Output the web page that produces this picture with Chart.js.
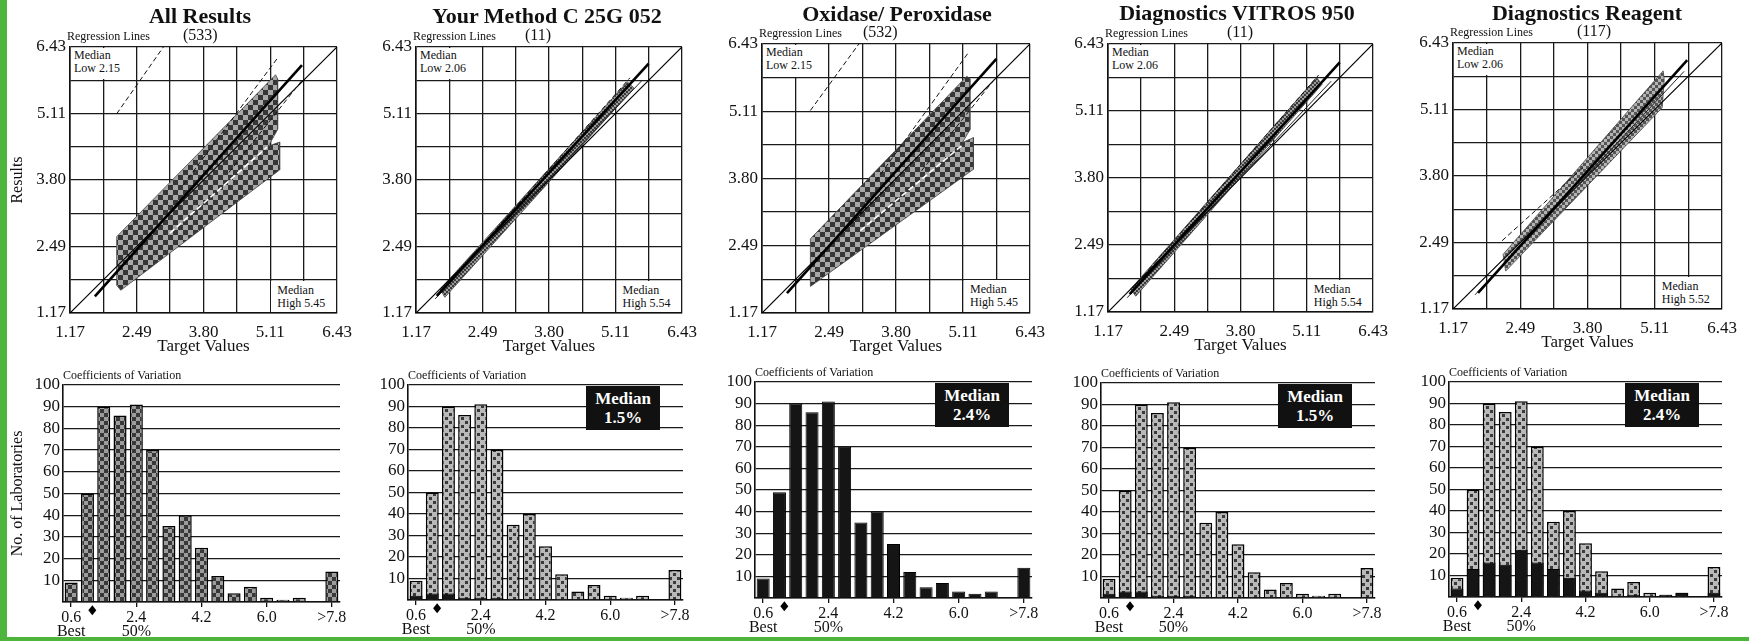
<!DOCTYPE html>
<html>
<head>
<meta charset="utf-8">
<script src="https://cdn.jsdelivr.net/npm/chart.js@4.4.1/dist/chart.umd.min.js"></script>
<style>
  body { margin: 0; background: #fff; }
  #page { position: relative; width: 1749px; height: 641px; overflow: hidden;
          font-family: "Liberation Serif", "Times New Roman", serif; color: #111; }
  #page canvas { position: absolute; }
  .abs { position: absolute; white-space: nowrap; }
  .title { font-size: 22px; font-weight: bold; line-height: 22px; transform: translateX(-50%); }
  .small { font-size: 12px; line-height: 13px; }
  .box { background: #fff; font-size: 12px; line-height: 13px; }
  .median { background: #111; color: #fff; font-weight: bold; font-size: 17px; line-height: 19px;
            text-align: center; box-sizing: border-box; padding-top: 3px; }
  .green { background: #4db53c; z-index: 5; }
</style>
</head>
<body>
<div id="page"></div>
<script>
// ---- data ----
const panelTitles = ['All Results', 'Your Method C 25G 052', 'Oxidase/ Peroxidase', 'Diagnostics VITROS 950', 'Diagnostics Reagent'];
const labCounts = ['(533)', '(11)', '(532)', '(11)', '(117)'];
const medianLow = ['2.15', '2.06', '2.15', '2.06', '2.06'];
const medianHigh = ['5.45', '5.54', '5.45', '5.54', '5.52'];
const cvMedian = [null, '1.5%', '2.4%', '1.5%', '2.4%'];

const gridValues = [1.17, 1.8275, 2.485, 3.1425, 3.80, 4.4575, 5.115, 5.7725, 6.43];
const gridLabels = ['1.17', '', '2.49', '', '3.80', '', '5.11', '', '6.43'];

const cvBins = ['0.6','1.05','1.5','1.95','2.4','2.85','3.3','3.75','4.2','4.65','5.1','5.55','6.0','6.45','6.9','7.35','>7.8'];
const cvTickLabels = { 0: ['0.6', 'Best'], 4: ['2.4', '50%'], 8: '4.2', 12: '6.0', 16: '>7.8' };
const allLabs       = [9, 50, 90, 86, 91, 70, 35, 40, 25, 12, 4, 7, 2, 1, 2, 0, 14];
const yourMethodLabs = [2, 3, 3, 1, 1, 1, 0, 0, 0, 0, 0, 0, 0, 0, 0, 0, 0];
const oxidaseLabs   = [9, 49, 90, 86, 91, 70, 35, 40, 25, 12, 5, 7, 3, 2, 3, 0, 14];
const vitrosLabs    = [2, 3, 3, 1, 1, 1, 0, 0, 0, 0, 0, 0, 0, 0, 0, 0, 0];
const reagentLabs   = [4, 13, 16, 15, 22, 16, 13, 9, 3, 2, 0, 1, 0, 1, 2, 0, 2];
// your lab's CV marker: position in bin units (bin 0 = "0.6"), value below the axis
const yourLabCV = [{ bin: 1.3, y: -3.8 }];

const identityLine = [{x: 1.17, y: 1.17}, {x: 6.43, y: 6.43}];
const medianLines = [
  [{x: 1.66, y: 1.50}, {x: 5.74, y: 6.07}],
  [{x: 1.58, y: 1.51}, {x: 5.77, y: 6.10}],
  [{x: 1.66, y: 1.56}, {x: 5.77, y: 6.14}],
  [{x: 1.60, y: 1.52}, {x: 5.77, y: 6.07}],
  [{x: 1.66, y: 1.49}, {x: 5.75, y: 6.09}]
];
const bandShapes = [
  [{x:2.09,y:2.68},{x:5.22,y:5.88},{x:5.26,y:5.80},{x:5.26,y:4.80},{x:5.08,y:4.47},{x:5.30,y:4.55},{x:5.30,y:4.00},{x:2.17,y:1.62},{x:2.09,y:1.72},{x:2.09,y:2.68}],
  [{x:1.65,y:1.64},{x:5.35,y:5.74},{x:5.48,y:5.62},{x:1.74,y:1.48},{x:1.65,y:1.64}],
  [{x:2.12,y:2.62},{x:5.19,y:5.80},{x:5.25,y:5.75},{x:5.25,y:4.75},{x:5.10,y:4.50},{x:5.32,y:4.60},{x:5.32,y:3.98},{x:2.12,y:1.69},{x:2.12,y:2.62}],
  [{x:1.62,y:1.62},{x:5.31,y:5.77},{x:5.42,y:5.64},{x:1.72,y:1.48},{x:1.62,y:1.62}],
  [{x:2.15,y:2.25},{x:5.28,y:5.88},{x:5.30,y:5.70},{x:5.26,y:5.15},{x:2.20,y:1.92},{x:2.15,y:2.25}]
];
const dashedLines = [
  [[{x:2.09,y:5.11},{x:3.01,y:6.43}], [{x:3.40,y:3.70},{x:5.25,y:6.20}], [{x:4.30,y:3.95},{x:5.74,y:5.77}]],
  [[{x:1.70,y:1.64},{x:5.40,y:5.82}]],
  [[{x:2.12,y:5.13},{x:3.07,y:6.43}], [{x:3.40,y:3.75},{x:5.22,y:6.26}], [{x:4.30,y:3.95},{x:5.78,y:5.80}]],
  [[{x:1.66,y:1.64},{x:5.35,y:5.82}]],
  [[{x:2.13,y:2.52},{x:3.75,y:4.00}]]
];
const thinLines = [
  [],
  [{x:1.55,y:1.45},{x:5.64,y:5.77}],
  [],
  [{x:1.55,y:1.45},{x:5.60,y:5.70}],
  [{x:1.60,y:1.45},{x:5.69,y:5.87}]
];
const whiteLines = [
  [{x:3.14,y:2.75},{x:5.05,y:4.45}],
  [],
  [{x:3.10,y:2.78},{x:5.10,y:4.45}],
  [],
  []
];

// ---- layout (plot areas in page pixels: left, right, top, bottom) ----
const scatterBoxes = [[70,337,47,313],[416,682,47,313],[762,1030,44,313],[1108,1373,44,312],[1453,1722,43,309]];
const histBoxes = [[63,340,385,602],[408,683,385,600],[755,1032,382,598],[1101,1375,383,598],[1449,1722,382,597]];
const titleCenters = [200, 547, 897, 1237, 1587];
const titleTops = [5, 5, 3, 2, 2];
const countOffsets = [113, 109, 101, 119, 124];

Chart.defaults.font.family = '"Liberation Serif", "Times New Roman", serif';
Chart.defaults.color = '#111';
Chart.defaults.animation = false;
Chart.defaults.plugins.legend.display = false;
Chart.defaults.plugins.tooltip.enabled = false;

// the "your lab" diamond sits below the x axis, outside the chart area,
// where point elements are not drawn: place it through the chart's own scales
const markerPlugin = {
  id: 'belowAxisMarker',
  afterDraw(chart, args, opts) {
    const xs = chart.scales.x, ys = chart.scales.y, ctx = chart.ctx;
    const x0 = xs.getPixelForValue(0), step = xs.getPixelForValue(1) - x0;
    (opts.points || []).forEach(p => {
      const px = x0 + p.bin * step, py = ys.getPixelForValue(p.y), r = 5;
      ctx.save();
      ctx.fillStyle = '#000';
      ctx.beginPath();
      ctx.moveTo(px, py - r);
      ctx.lineTo(px + r * 0.8, py);
      ctx.lineTo(px, py + r);
      ctx.lineTo(px - r * 0.8, py);
      ctx.closePath();
      ctx.fill();
      ctx.restore();
    });
  }
};

const page = document.getElementById('page');

function addCanvas(left, top, w, h) {
  const c = document.createElement('canvas');
  c.width = w; c.height = h;
  c.style.left = left + 'px'; c.style.top = top + 'px';
  c.style.width = w + 'px'; c.style.height = h + 'px';
  page.appendChild(c);
  return c;
}
function addDiv(cls, html, css) {
  const d = document.createElement('div');
  d.className = 'abs ' + cls;
  d.innerHTML = html;
  Object.assign(d.style, css);
  page.appendChild(d);
  return d;
}
function checker(base, dark, size, cell) {
  const c = document.createElement('canvas');
  c.width = c.height = size * 2;
  const g = c.getContext('2d');
  g.fillStyle = base; g.fillRect(0, 0, size * 2, size * 2);
  g.fillStyle = dark;
  g.fillRect(0, 0, cell, cell); g.fillRect(size, size, cell, cell);
  return g.createPattern(c, 'repeat');
}

const bandPatterns = [
  checker('#a8a8a8', '#363636', 5, 5),
  checker('#9a9a9a', '#3a3a3a', 2, 2),
  checker('#a8a8a8', '#363636', 5, 5),
  checker('#9a9a9a', '#3a3a3a', 2, 2),
  checker('#b4b4b4', '#555555', 3, 3)
];
const histPatterns = [
  checker('#9c9c9c', '#383838', 4, 4),
  checker('#b9b9b9', '#3a3a3a', 4, 3),
  null,
  checker('#b9b9b9', '#3a3a3a', 4, 3),
  checker('#b9b9b9', '#3a3a3a', 4, 3)
];
const blackSeries = [null, yourMethodLabs, oxidaseLabs, vitrosLabs, reagentLabs];

function lineDs(pts, color, width, dash) {
  return { type: 'scatter', data: pts, showLine: true, borderColor: color, borderWidth: width,
           borderDash: dash || [], pointRadius: 0, fill: false };
}

function makeScatter(i) {
  const [L, R, T, B] = scatterBoxes[i];
  const YW = 62, PT = 12, PR = 22, XH = 44;
  const cl = L - YW, ct = T - PT;
  const canvas = addCanvas(cl, ct, R - L + YW + PR, B - T + PT + XH);

  const datasets = [];
  if (whiteLines[i].length) datasets.push(lineDs(whiteLines[i], '#ffffff', 1.6, [6, 3]));
  datasets.push(lineDs(medianLines[i], '#000', 2.6));
  dashedLines[i].forEach(p => datasets.push(lineDs(p, '#111', 1, [5, 3])));
  if (thinLines[i].length) datasets.push(lineDs(thinLines[i], '#222', 1));
  datasets.push(lineDs(identityLine, '#000', 1.2));
  datasets.push({ type: 'scatter', data: bandShapes[i], showLine: true, fill: 'shape',
                  backgroundColor: bandPatterns[i], borderColor: '#444', borderWidth: 0.8, pointRadius: 0 });

  const axis = (isX) => ({
    type: 'linear', min: 1.17, max: 6.43,
    afterBuildTicks: s => { s.ticks = gridValues.map(v => ({ value: v })); },
    afterFit: s => {
      if (isX) { s.height = XH; s.paddingLeft = 0; s.paddingRight = 0; }
      else { s.width = YW; s.paddingTop = 0; s.paddingBottom = 0; }
    },
    grid: { color: '#1a1a1a', lineWidth: 1.3, drawTicks: false },
    border: { color: '#111', width: 1.6 },
    ticks: { autoSkip: false, maxRotation: 0, padding: isX ? 9 : 4, font: { size: 17 },
             callback: (v, idx) => gridLabels[idx] },
    title: isX ? { display: true, text: 'Target Values', font: { size: 17 }, padding: 0 }
               : { display: i === 0, text: 'Results', font: { size: 16 }, padding: 0 }
  });

  const chart = new Chart(canvas, {
    type: 'scatter',
    data: { datasets },
    options: {
      responsive: false,
      layout: { padding: { left: 0, top: PT, right: PR, bottom: 0 } },
      scales: { x: axis(true), y: axis(false) }
    }
  });

  const sx = v => cl + chart.scales.x.getPixelForValue(v);
  const sy = v => ct + chart.scales.y.getPixelForValue(v);
  const a = chart.chartArea;
  // median low / high boxes
  addDiv('box', 'Median<br>Low ' + medianLow[i], {
    left: (cl + a.left + 1) + 'px', top: (ct + a.top + 1) + 'px',
    width: (sx(gridValues[2]) - (cl + a.left) - 3) + 'px', height: (sy(gridValues[7]) - (ct + a.top) - 2) + 'px',
    padding: '1px 0 0 3px', boxSizing: 'border-box'
  });
  addDiv('box', 'Median<br>High ' + medianHigh[i], {
    left: (sx(gridValues[6]) + 1) + 'px', top: (sy(gridValues[1]) + 1) + 'px',
    width: (cl + a.right - sx(gridValues[6]) - 2) + 'px', height: (ct + a.bottom - sy(gridValues[1]) - 2) + 'px',
    padding: '3px 0 0 6px', boxSizing: 'border-box'
  });
  addDiv('small', 'Regression Lines', { left: (L - 3) + 'px', top: (T - 17) + 'px' });
  addDiv('', labCounts[i], { left: (L + countOffsets[i]) + 'px', top: (T - 20) + 'px', fontSize: '16px', lineHeight: '16px' });
  addDiv('title', panelTitles[i], { left: titleCenters[i] + 'px', top: titleTops[i] + 'px' });
}

function makeHist(i) {
  const [L, R, T, B] = histBoxes[i];
  const YW = 55, PT = 12, PR = 20, XH = 40;
  const cl = L - YW, ct = T - PT;
  const canvas = addCanvas(cl, ct, R - L + YW + PR, B - T + PT + XH);

  const datasets = [];
  if (blackSeries[i]) {
    datasets.push({ data: blackSeries[i], backgroundColor: '#151515', borderColor: '#000',
                    borderWidth: 1, grouped: false, barPercentage: 0.8, categoryPercentage: 1 });
  }
  if (histPatterns[i]) {
    datasets.push({ data: allLabs, backgroundColor: histPatterns[i], borderColor: '#000',
                    borderWidth: 1.5, grouped: false, barPercentage: 0.8, categoryPercentage: 1 });
  }

  new Chart(canvas, {
    type: 'bar',
    data: { labels: cvBins, datasets },
    plugins: [markerPlugin],
    options: {
      responsive: false,
      layout: { padding: { left: 0, top: PT, right: PR, bottom: 0 } },
      plugins: { belowAxisMarker: { points: yourLabCV } },
      scales: {
        x: {
          type: 'category',
          afterFit: s => { s.height = XH; s.paddingLeft = 0; s.paddingRight = 0; },
          grid: { drawOnChartArea: false, drawTicks: true, tickLength: 5, offset: false,
                  color: c => (c.index % 4 === 0 ? '#111' : 'rgba(0,0,0,0)'), lineWidth: 1.3 },
          border: { color: '#111', width: 1.6 },
          ticks: { autoSkip: false, maxRotation: 0, padding: 4, font: { size: 16, lineHeight: 0.85 },
                   callback: (v, idx) => (cvTickLabels[idx] !== undefined ? cvTickLabels[idx] : '') }
        },
        y: {
          min: 0, max: 100,
          afterFit: s => { s.width = YW; s.paddingTop = 0; s.paddingBottom = 0; },
          grid: { color: '#1a1a1a', lineWidth: 1.3, drawTicks: false },
          border: { color: '#111', width: 1.6 },
          ticks: { stepSize: 10, autoSkip: false, padding: 3, font: { size: 17 },
                   callback: v => (v === 0 ? '' : v) },
          title: { display: i === 0, text: 'No. of Laboratories', font: { size: 16 }, padding: 0 }
        }
      }
    }
  });

  addDiv('small', 'Coefficients of Variation', { left: L + 'px', top: (T - 16) + 'px' });
  if (cvMedian[i]) {
    addDiv('median', 'Median<br>' + cvMedian[i], {
      left: (R - 23 - 74) + 'px', top: (T + 1) + 'px', width: '74px', height: '44px'
    });
  }
}

for (let i = 0; i < 5; i++) { makeScatter(i); makeHist(i); }

addDiv('green', '', { left: '0px', top: '0px', width: '7px', height: '641px' });
addDiv('green', '', { left: '0px', top: '637px', width: '1749px', height: '4px' });
</script>
</body>
</html>
